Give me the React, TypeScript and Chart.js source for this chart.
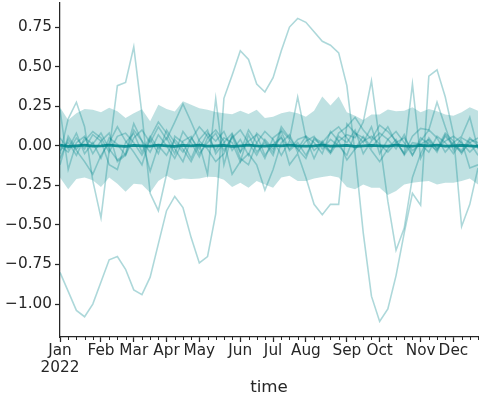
import React, { useEffect, useRef } from 'react';
import { Chart, registerables } from 'chart.js';

Chart.register(...registerables);

// Weekly periods of 2022 (index 0..51)
const monthTickWeeks = [0, 5, 9, 13, 17, 22, 26, 30, 35, 39, 44, 48];
const monthLabels = ['Jan', 'Feb', 'Mar', 'Apr', 'May', 'Jun', 'Jul', 'Aug', 'Sep', 'Oct', 'Nov', 'Dec'];
const yearLabel = '2022';
const yTicks = [-1, -0.75, -0.5, -0.25, 0, 0.25, 0.5, 0.75];
const xTitle = 'time';

const meanLine = [0.004, -0.004, 0.0, 0.004, -0.002, 0.0, 0.004, 0.0, -0.004, 0.002, 0.0, -0.002, 0.004, 0.0, -0.004, 0.002, 0.0, 0.004, -0.002, 0.0, 0.002, -0.004, 0.0, 0.004, 0.0, -0.002, 0.002, 0.0, 0.004, 0.0, -0.002, 0.0, 0.004, -0.002, 0.0, 0.002, -0.004, 0.0, 0.002, 0.0, -0.002, 0.004, 0.0, -0.002, 0.002, 0.0, 0.004, -0.002, 0.0, 0.002, 0.0, -0.004];

const bandUpper = [0.244, 0.163, 0.205, 0.233, 0.227, 0.212, 0.24, 0.218, 0.176, 0.205, 0.231, 0.155, 0.259, 0.233, 0.216, 0.282, 0.259, 0.237, 0.227, 0.214, 0.205, 0.199, 0.222, 0.201, 0.227, 0.176, 0.184, 0.205, 0.216, 0.205, 0.184, 0.222, 0.311, 0.254, 0.311, 0.212, 0.19, 0.163, 0.197, 0.197, 0.229, 0.218, 0.222, 0.244, 0.212, 0.233, 0.218, 0.197, 0.19, 0.212, 0.244, 0.222];
const bandLower = [-0.2, -0.275, -0.21, -0.2, -0.218, -0.26, -0.2, -0.24, -0.29, -0.24, -0.245, -0.297, -0.222, -0.19, -0.218, -0.206, -0.21, -0.206, -0.195, -0.197, -0.214, -0.261, -0.233, -0.265, -0.222, -0.244, -0.265, -0.201, -0.19, -0.222, -0.222, -0.206, -0.197, -0.19, -0.201, -0.261, -0.275, -0.244, -0.265, -0.265, -0.311, -0.286, -0.244, -0.233, -0.227, -0.222, -0.244, -0.233, -0.233, -0.222, -0.206, -0.244];

const unitA = [-0.80, -0.92, -1.04, -1.08, -1.00, -0.86, -0.72, -0.70, -0.78, -0.91, -0.94, -0.83, -0.62, -0.41, -0.32, -0.39, -0.58, -0.74, -0.70, -0.43, 0.30, 0.445, 0.60, 0.545, 0.39, 0.34, 0.43, 0.60, 0.75, 0.805, 0.78, 0.72, 0.66, 0.635, 0.587, 0.38, -0.05, -0.55, -0.95, -1.11, -1.03, -0.82, -0.55, -0.30, -0.375, 0.44, 0.48, 0.31, 0.075, -0.51, -0.37, -0.14];
const unitB = [-0.05, 0.17, 0.275, 0.12, -0.22, -0.455, -0.03, 0.38, 0.40, 0.625, 0.20, -0.30, -0.41, -0.18, 0.06, 0.02, -0.08, 0.04, 0.10, -0.05, 0.02, 0.08, -0.04, 0.03, 0.07, -0.06, 0.01, 0.05, -0.02, 0.04, 0.06, -0.03, 0.02, 0.08, 0.12, 0.05, -0.02, 0.03, 0.06, 0.01, -0.04, 0.02, 0.05, -0.03, 0.01, 0.04, -0.02, 0.03, 0.06, 0.02, -0.04, 0.01];
const unitC = [0.23, -0.15, 0.02, 0.06, -0.05, 0.03, 0.08, -0.10, -0.06, 0.05, 0.10, 0.02, 0.12, 0.04, 0.15, 0.265, 0.15, 0.03, -0.02, -0.10, -0.05, 0.06, -0.08, -0.12, 0.02, 0.09, 0.04, -0.06, 0.03, -0.02, -0.08, 0.05, 0.02, -0.04, 0.08, 0.12, 0.18, 0.10, 0.04, 0.13, 0.09, 0.03, -0.05, 0.06, 0.11, 0.10, 0.275, 0.12, -0.03, 0.05, 0.02, -0.06];
const unitD = [-0.03, 0.02, -0.06, 0.05, 0.01, 0.08, -0.02, -0.09, -0.05, 0.14, 0.03, -0.16, 0.0, -0.06, 0.04, -0.02, -0.10, 0.01, -0.18, 0.297, -0.12, 0.07, -0.04, 0.10, 0.02, -0.08, 0.05, 0.09, -0.03, 0.02, -0.06, 0.04, 0.01, -0.05, 0.03, -0.09, -0.02, 0.06, -0.01, 0.05, 0.12, 0.02, -0.05, 0.39, -0.08, 0.03, -0.04, 0.07, 0.01, -0.03, 0.05, 0.0];
const unitE = [0.0, -0.04, 0.05, -0.02, 0.07, 0.03, -0.12, -0.15, 0.02, 0.08, -0.04, 0.06, -0.02, 0.05, -0.05, 0.09, 0.02, -0.07, 0.05, 0.10, 0.03, -0.18, -0.10, -0.05, -0.12, -0.28, -0.15, 0.02, 0.07, -0.04, 0.03, 0.06, -0.02, 0.04, 0.0, -0.06, 0.08, 0.05, -0.03, -0.10, -0.02, 0.04, -0.06, 0.02, 0.01, -0.04, 0.06, 0.02, -0.05, 0.03, -0.14, -0.12];
const unitF = [-0.08, 0.04, -0.03, -0.10, -0.18, -0.06, 0.02, 0.12, 0.03, -0.04, -0.12, 0.05, 0.15, 0.08, -0.02, -0.10, 0.04, 0.12, 0.06, -0.03, 0.05, 0.02, -0.10, 0.07, -0.04, 0.02, -0.06, 0.10, 0.04, 0.307, 0.05, -0.08, 0.03, -0.04, 0.06, 0.02, 0.10, -0.05, 0.03, 0.08, 0.04, -0.02, 0.07, -0.06, 0.03, 0.10, 0.05, -0.04, 0.02, 0.06, 0.18, -0.02];
const unitG = [0.05, -0.02, 0.08, -0.05, 0.02, -0.08, 0.05, 0.01, -0.06, 0.10, 0.03, -0.04, 0.07, 0.0, -0.08, 0.03, 0.06, -0.05, 0.02, 0.08, -0.03, 0.05, 0.10, 0.02, -0.06, 0.04, -0.02, 0.06, -0.12, -0.05, -0.20, -0.37, -0.435, -0.37, -0.37, 0.138, 0.08, 0.02, 0.12, -0.05, 0.04, 0.09, 0.02, -0.06, 0.05, 0.01, -0.03, 0.06, 0.0, -0.04, 0.02, 0.05];
const unitH = [-0.12, 0.06, -0.02, 0.03, 0.09, 0.05, -0.04, 0.06, 0.08, 0.02, -0.06, 0.04, -0.05, 0.10, 0.02, -0.04, 0.05, -0.02, 0.08, 0.03, 0.09, -0.03, 0.04, -0.06, 0.08, 0.03, -0.04, 0.12, 0.05, -0.02, 0.06, 0.02, -0.05, 0.09, 0.03, 0.07, 0.05, 0.15, 0.41, 0.03, -0.35, -0.66, -0.52, -0.20, -0.05, 0.05, -0.02, 0.08, 0.03, -0.05, 0.04, 0.02];

const units = [unitA, unitB, unitC, unitD, unitE, unitF, unitG, unitH];

const BASE = '0,135,140';
const INK = '#262626';
const FONT = '"DejaVu Sans", sans-serif';

const toPoints = (arr: number[]) => arr.map((v, i) => ({ x: i, y: v }));

const minorTicks = {
  id: 'minorTicks',
  afterDraw(chart: any) {
    const xs = chart.scales.x;
    const ctx = chart.ctx;
    const y0 = chart.chartArea.bottom;
    ctx.save();
    ctx.strokeStyle = INK;
    ctx.lineWidth = 1;
    for (let i = 0; i < meanLine.length; i++) {
      if (monthTickWeeks.includes(i)) continue;
      const px = Math.round(xs.getPixelForValue(i)) + 0.5;
      ctx.beginPath();
      ctx.moveTo(px, y0);
      ctx.lineTo(px, y0 + 3);
      ctx.stroke();
    }
    ctx.restore();
  },
};

export default function App() {
  const ref = useRef<HTMLCanvasElement>(null);
  useEffect(() => {
    document.body.style.margin = '0';
    const canvas = ref.current;
    if (!canvas) return;
    const datasets: any[] = [
      {
        data: toPoints(meanLine),
        borderColor: `rgba(${BASE},0.9)`,
        borderWidth: 2.8,
        pointRadius: 0,
        fill: false,
        order: 0,
      },
      {
        data: toPoints(bandLower),
        borderWidth: 0,
        borderColor: 'rgba(0,0,0,0)',
        pointRadius: 0,
        fill: false,
        order: 1,
      },
      {
        data: toPoints(bandUpper),
        borderWidth: 0,
        borderColor: 'rgba(0,0,0,0)',
        backgroundColor: `rgba(${BASE},0.25)`,
        pointRadius: 0,
        fill: '-1',
        order: 1,
      },
      ...units.map((u) => ({
        data: toPoints(u),
        borderColor: `rgba(${BASE},0.32)`,
        borderWidth: 1.6,
        pointRadius: 0,
        fill: false,
        order: 2,
      })),
    ];
    const chart = new Chart(canvas, {
      type: 'line',
      data: { datasets },
      plugins: [minorTicks],
      options: {
        animation: false,
        responsive: false,
        devicePixelRatio: 1,
        layout: { padding: { top: 3, right: 2, left: 0, bottom: 0 } },
        plugins: { legend: { display: false }, tooltip: { enabled: false } },
        elements: { line: { tension: 0 } },
        scales: {
          x: {
            type: 'linear',
            min: 0,
            max: 51,
            afterBuildTicks: (scale: any) => {
              scale.ticks = monthTickWeeks.map((v) => ({ value: v }));
            },
            afterFit: (scale: any) => {
              scale.height = 63;
              scale.paddingLeft = 0;
              scale.paddingRight = 0;
            },
            ticks: {
              autoSkip: false,
              maxRotation: 0,
              minRotation: 0,
              padding: 1,
              color: INK,
              font: { family: FONT, size: 15.3, lineHeight: 1.1 },
              callback: (value: any) => {
                const idx = monthTickWeeks.indexOf(Number(value));
                if (idx < 0) return '';
                return idx === 0 ? [monthLabels[idx], yearLabel] : monthLabels[idx];
              },
            },
            grid: {
              display: true,
              drawOnChartArea: false,
              drawTicks: true,
              tickLength: 5,
              tickColor: INK,
              tickWidth: 1.25,
            },
            border: { display: true, color: INK, width: 1.25 },
            title: {
              display: true,
              text: xTitle,
              color: INK,
              font: { family: FONT, size: 16.7, lineHeight: 1.2 },
              padding: { top: 0, bottom: 2 },
            },
          },
          y: {
            type: 'linear',
            min: -1.208,
            max: 0.902,
            afterBuildTicks: (scale: any) => {
              scale.ticks = yTicks.map((v) => ({ value: v }));
            },
            afterFit: (scale: any) => {
              scale.width = 60;
              scale.paddingTop = 0;
              scale.paddingBottom = 0;
            },
            ticks: {
              padding: 3,
              color: INK,
              font: { family: FONT, size: 15.3 },
              callback: (value: any) => {
                const v = Number(value);
                const s = Math.abs(v).toFixed(2);
                return v < 0 ? '\u2212' + s : s;
              },
            },
            grid: {
              display: true,
              drawOnChartArea: false,
              drawTicks: true,
              tickLength: 5,
              tickColor: INK,
              tickWidth: 1.25,
            },
            border: { display: true, color: INK, width: 1.25 },
          },
        },
      },
    });
    return () => chart.destroy();
  }, []);
  return <canvas ref={ref} width={480} height={400} style={{ display: 'block' }} />;
}
